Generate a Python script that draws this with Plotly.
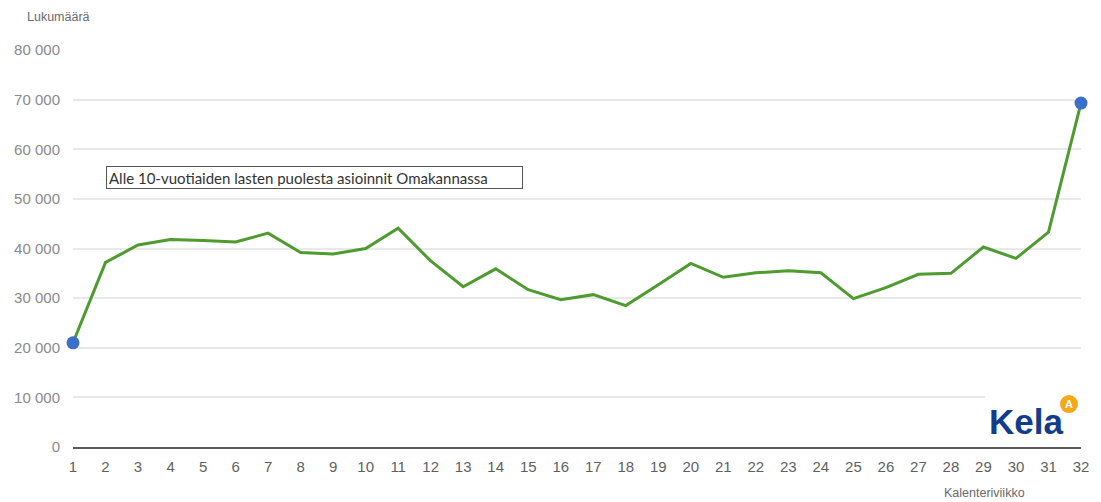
import plotly.graph_objects as go

weeks = list(range(1, 33))
values = [21000, 37200, 40700, 41800, 41600, 41300, 43100, 39200, 38900, 40000,
          44100, 37500, 32300, 35900, 31700, 29700, 30700, 28500, 32700, 37000,
          34200, 35100, 35500, 35100, 29900, 32100, 34800, 35000, 40300, 38000,
          43300, 69300]
y_ticks = [0, 10000, 20000, 30000, 40000, 50000, 60000, 70000, 80000]
y_title = "Lukumäärä"
x_title = "Kalenteriviikko"
note = "Alle 10-vuotiaiden lasten puolesta asioinnit Omakannassa"

# page body has an 8px margin; plot area spans ref px x 73..1081, y 50..447
PW, PH = 1008, 397.5
X0, Y0 = 73, 447


def px(x):
    return (x - X0) / PW


def py(y):
    return (Y0 - y) / PH


fig = go.Figure()
fig.add_trace(go.Scatter(
    x=weeks, y=values, mode="lines",
    line=dict(color="#4e9b2f", width=3),
    hoverinfo="x+y", showlegend=False,
))
fig.add_trace(go.Scatter(
    x=[weeks[0], weeks[-1]], y=[values[0], values[-1]], mode="markers",
    marker=dict(color="#3a6fcc", size=13),
    cliponaxis=False, showlegend=False,
))

fig.update_layout(
    width=1093, height=494,
    margin=dict(l=65, r=20, t=42, b=55),
    paper_bgcolor="white", plot_bgcolor="white",
    separators=", ",
    font=dict(family="Liberation Sans, Arial, sans-serif", color="#666"),
    xaxis=dict(
        range=[1, 32], tickvals=weeks, ticktext=[str(w) for w in weeks],
        showgrid=False, zeroline=False, automargin=False,
        showline=True, linecolor="#5a5a5a", linewidth=2,
        tickfont=dict(size=15, color="#5f5f5f"),
        ticks="", ticklabelstandoff=5,
    ),
    yaxis=dict(
        range=[0, 80000], tickvals=y_ticks, tickformat=",d",
        showgrid=True, gridcolor="#e9e9e9", gridwidth=1.5,
        zeroline=False, showline=False, automargin=False,
        tickfont=dict(size=15, color="#8a8a8a"),
        ticks="", ticklabelstandoff=12,
    ),
    shapes=[
        dict(type="rect", xref="paper", yref="paper",
             x0=px(985), x1=1.0, y0=0.004, y1=py(393),
             fillcolor="white", line=dict(width=0), layer="above"),
        dict(type="circle", xref="paper", yref="paper",
             x0=px(1069 - 9), x1=px(1069 + 9),
             y0=py(404 + 9), y1=py(404 - 9),
             fillcolor="#f6a81c", line=dict(width=0), layer="above"),
    ],
    annotations=[
        dict(text=y_title, xref="paper", yref="paper", x=px(25), y=py(16),
             xanchor="left", yanchor="middle", showarrow=False,
             font=dict(size=12.5, color="#6a6a6a")),
        dict(text=x_title, xref="paper", yref="paper", x=px(984), y=py(493),
             xanchor="center", yanchor="middle", showarrow=False,
             font=dict(size=12.5, color="#6a6a6a")),
        dict(text=note, xref="paper", yref="paper", x=px(106), y=py(166),
             xanchor="left", yanchor="top", showarrow=False, align="left",
             width=411, height=17,
             bordercolor="#555", borderwidth=1, borderpad=2, bgcolor="white",
             font=dict(family="Lato, Open Sans, sans-serif", size=15, color="#333")),
        dict(text="<b>Kela</b>", xref="paper", yref="paper", x=px(1026), y=py(421),
             xanchor="center", yanchor="middle", showarrow=False,
             font=dict(family="Liberation Sans, Arial, sans-serif", size=35, color="#0f3c8c")),
        dict(text="<b>A</b>", xref="paper", yref="paper", x=px(1069), y=py(404),
             xanchor="center", yanchor="middle", showarrow=False,
             font=dict(family="Liberation Sans, Arial, sans-serif", size=11, color="white")),
    ],
)

fig.write_html("out.html")
